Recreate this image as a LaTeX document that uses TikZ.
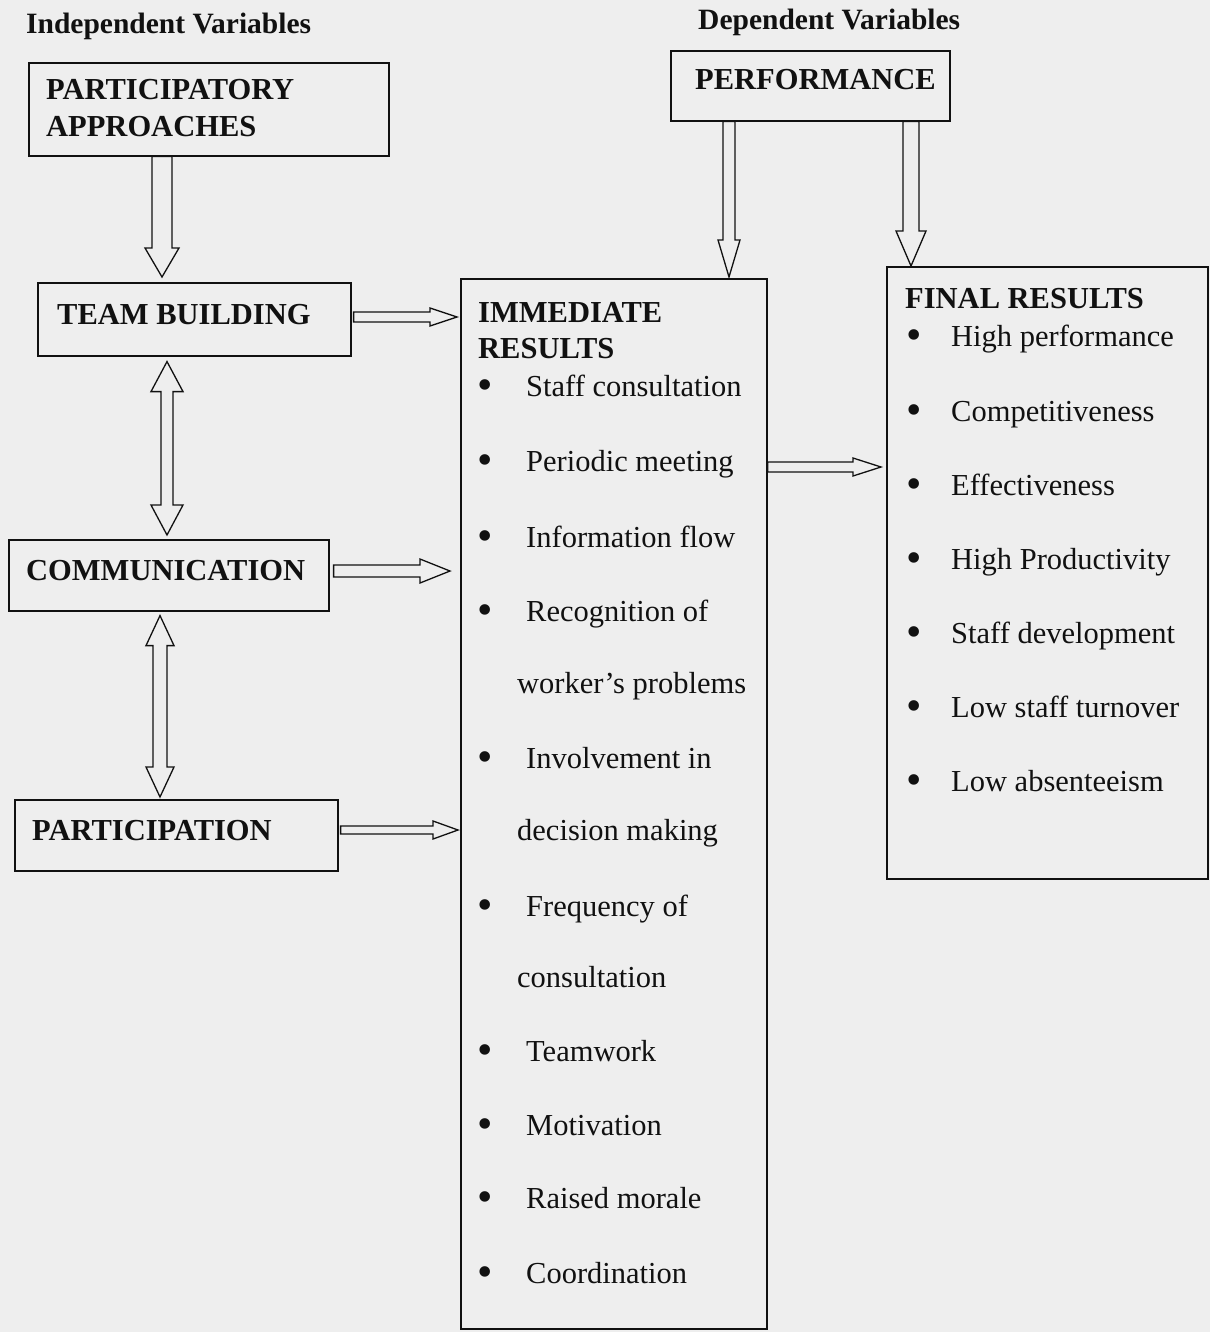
\documentclass[tikz,border=0pt]{standalone}
\usepackage{fontspec}
\setmainfont{Liberation Serif}
\usetikzlibrary{calc}
\definecolor{bg}{HTML}{EEEEEE}
\definecolor{ink}{HTML}{111111}
\newcommand\bul[1]{\makebox[#1][l]{\raisebox{-3pt}{\fontsize{44}{44}\selectfont\textbullet}}}
\tikzset{
  box/.style={draw=ink, line width=1.6pt, rectangle, anchor=north west, inner sep=0pt},
  lbl/.style={anchor=base west, inner sep=0pt, font=\fontsize{30.5}{36}\selectfont\bfseries, text=ink},
  itm/.style={anchor=base west, inner sep=0pt, font=\fontsize{30.5}{36}\selectfont, text=ink},
  hdr/.style={anchor=base west, inner sep=0pt, font=\fontsize{29.5}{34}\selectfont\bfseries, text=ink},
  blk/.style={draw=ink, line width=1.3pt, fill=bg, line join=miter},
}
% horizontal hollow arrow: start, tip, half shaft, half head, head length
\newcommand\HArr[5]{\draw[blk] ($(#1)+(0,#3)$) -- ($(#2)+(-#5,#3)$) -- ($(#2)+(-#5,#4)$) -- (#2) -- ($(#2)+(-#5,-#4)$) -- ($(#2)+(-#5,-#3)$) -- ($(#1)+(0,-#3)$) -- cycle;}
% vertical hollow arrow pointing down: start, tip, half shaft, half head, head length
\newcommand\VArr[5]{\draw[blk] ($(#1)+(-#3,0)$) -- ($(#2)+(-#3,-#5)$) -- ($(#2)+(-#4,-#5)$) -- (#2) -- ($(#2)+(#4,-#5)$) -- ($(#2)+(#3,-#5)$) -- ($(#1)+(#3,0)$) -- cycle;}
% vertical double-headed hollow arrow: top tip, bottom tip, half shaft, half head, head length
\newcommand\DArr[5]{\draw[blk] (#1) -- ($(#1)+(#4,#5)$) -- ($(#1)+(#3,#5)$) -- ($(#2)+(#3,-#5)$) -- ($(#2)+(#4,-#5)$) -- (#2) -- ($(#2)+(-#4,-#5)$) -- ($(#2)+(-#3,-#5)$) -- ($(#1)+(-#3,#5)$) -- ($(#1)+(-#4,#5)$) -- cycle;}
\begin{document}
\begin{tikzpicture}[x=1pt,y=-1pt]
\fill[bg] (0,0) rectangle (1210,1332);
\useasboundingbox (0,0) rectangle (1210,1332);

% headers
\node[hdr] (hind) at (26,34) {Independent Variables};
\node[hdr] (hdep) at (698,30) {Dependent Variables};

% boxes
\node[box, minimum width=360pt, minimum height=93pt] (pa) at (28,62) {};
\node[box, minimum width=279pt, minimum height=70pt] (perf) at (670,50) {};
\node[box, minimum width=313pt, minimum height=73pt] (tb) at (37,282) {};
\node[box, minimum width=320pt, minimum height=71pt] (comm) at (8,539) {};
\node[box, minimum width=323pt, minimum height=71pt] (part) at (14,799) {};
\node[box, minimum width=306pt, minimum height=1050pt] (ir) at (460,278) {};
\node[box, minimum width=321pt, minimum height=612pt] (fr) at (886,266) {};

% box labels
\node[lbl] (pa1) at (46,100) {PARTICIPATORY};
\node[lbl] (pa2) at (46,137) {APPROACHES};
\node[lbl] (perfl) at (695,90) {PERFORMANCE};
\node[lbl] (tbl) at (57,324) {TEAM BUILDING};
\node[lbl] (comml) at (26,580) {COMMUNICATION};
\node[lbl] (partl) at (32,840) {PARTICIPATION};

% immediate results
\node[lbl] (ir0a) at (478,322) {IMMEDIATE};
\node[lbl] (ir0b) at (478,358) {RESULTS};
\node[itm] (ir1) at (477,396) {\bul{49pt}Staff consultation};
\node[itm] (ir2) at (477,471) {\bul{49pt}Periodic meeting};
\node[itm] (ir3) at (477,547) {\bul{49pt}Information flow};
\node[itm] (ir4) at (477,621) {\bul{49pt}Recognition of};
\node[itm] (ir4b) at (517,693) {worker’s problems};
\node[itm] (ir5) at (477,768) {\bul{49pt}Involvement in};
\node[itm] (ir5b) at (517,840) {decision making};
\node[itm] (ir6) at (477,916) {\bul{49pt}Frequency of};
\node[itm] (ir6b) at (517,987) {consultation};
\node[itm] (ir7) at (477,1061) {\bul{49pt}Teamwork};
\node[itm] (ir8) at (477,1135) {\bul{49pt}Motivation};
\node[itm] (ir9) at (477,1208) {\bul{49pt}Raised morale};
\node[itm] (ir10) at (477,1283) {\bul{49pt}Coordination};

% final results
\node[lbl] (fr0) at (905,308) {FINAL RESULTS};
\node[itm] (fr1) at (906,346) {\bul{45pt}High performance};
\node[itm] (fr2) at (906,421) {\bul{45pt}Competitiveness};
\node[itm] (fr3) at (906,495) {\bul{45pt}Effectiveness};
\node[itm] (fr4) at (906,569) {\bul{45pt}High Productivity};
\node[itm] (fr5) at (906,643) {\bul{45pt}Staff development};
\node[itm] (fr6) at (906,717) {\bul{45pt}Low staff turnover};
\node[itm] (fr7) at (906,791) {\bul{45pt}Low absenteeism};

% helper coordinates
\coordinate (xa) at (162,0);
\coordinate (xb) at (729,0);
\coordinate (xc) at (911,0);
\coordinate (xd) at (167,0);
\coordinate (xe) at (160,0);
\coordinate (ym) at (0,467);
\coordinate (yc) at (0,571);
\coordinate (yp) at (0,830);
\coordinate (yt) at (0,317);

\coordinate (a1s) at (xa |- pa.south);
\coordinate[yshift=5pt] (a1e) at (xa |- tb.north);
\coordinate (a2s) at (xb |- perf.south);
\coordinate[yshift=1pt] (a2e) at (xb |- ir.north);
\coordinate (a3s) at (xc |- perf.south);
\coordinate (a3e) at (xc |- fr.north);

\coordinate[xshift=2pt] (h1s) at (yt -| tb.east);
\coordinate[xshift=-3pt] (h1e) at (yt -| ir.west);
\coordinate[xshift=4pt] (h2s) at (yc -| comm.east);
\coordinate[xshift=-10pt] (h2e) at (yc -| ir.west);
\coordinate[xshift=2pt] (h3s) at (yp -| part.east);
\coordinate[xshift=-2pt] (h3e) at (yp -| ir.west);
\coordinate (h4s) at (ym -| ir.east);
\coordinate[xshift=-5pt] (h4e) at (ym -| fr.west);

\coordinate[yshift=-5pt] (d1t) at (xd |- tb.south);
\coordinate[yshift=4pt] (d1b) at (xd |- comm.north);
\coordinate[yshift=-4pt] (d2t) at (xe |- comm.south);
\coordinate[yshift=2pt] (d2b) at (xe |- part.north);

% arrows
\VArr{a1s}{a1e}{10}{17}{29}
\VArr{a2s}{a2e}{6}{11}{37}
\VArr{a3s}{a3e}{8}{15}{35}
\HArr{h1s}{h1e}{5}{9}{27}
\HArr{h2s}{h2e}{6}{12}{30}
\HArr{h3s}{h3e}{4}{9}{25}
\HArr{h4s}{h4e}{5}{9}{28}
\DArr{d1t}{d1b}{6}{16}{30}
\DArr{d2t}{d2b}{7}{14}{30}
\end{tikzpicture}
\end{document}
